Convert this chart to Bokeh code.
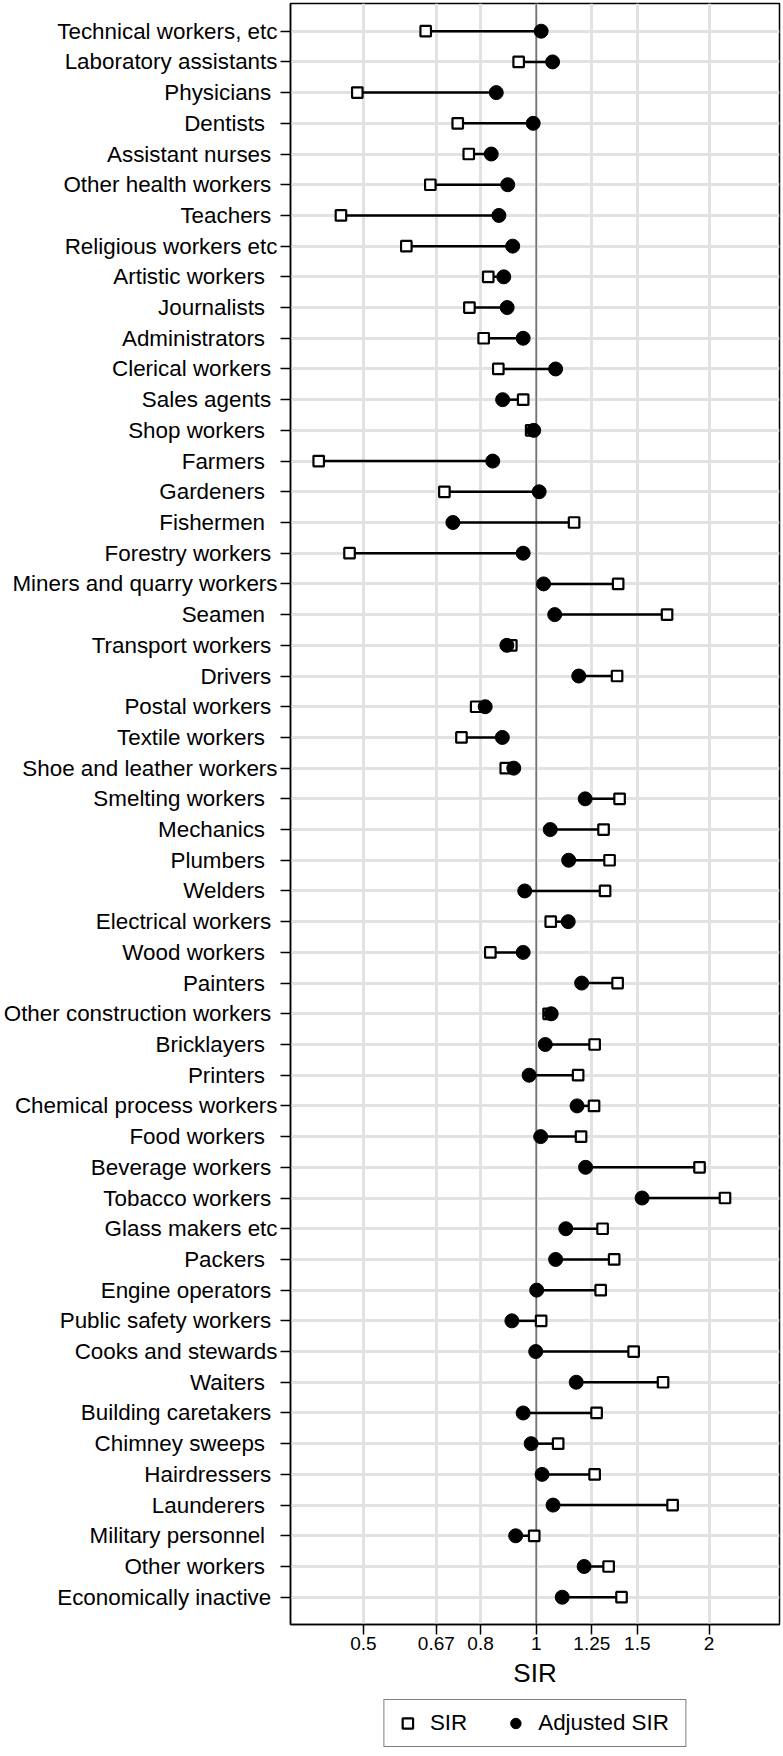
from bokeh.plotting import figure
from bokeh.layouts import column
from bokeh.models import Range1d, FixedTicker, Span, Legend, LegendItem, ColumnDataSource
from bokeh.embed import file_html
from bokeh.resources import INLINE

NB = "\u00a0"

categories = [
    "Technical workers, etc", "Laboratory assistants", "Physicians" + NB, "Dentists" + NB * 2,
    "Assistant nurses" + NB, "Other health workers" + NB, "Teachers" + NB, "Religious workers etc",
    "Artistic workers" + NB * 2, "Journalists" + NB * 2, "Administrators" + NB * 2,
    "Clerical workers" + NB, "Sales agents" + NB, "Shop workers" + NB * 2, "Farmers" + NB * 2,
    "Gardeners" + NB * 2, "Fishermen" + NB * 2, "Forestry workers" + NB, "Miners and quarry workers",
    "Seamen" + NB * 2, "Transport workers" + NB, "Drivers" + NB, "Postal workers" + NB,
    "Textile workers" + NB * 2, "Shoe and leather workers", "Smelting workers" + NB * 2,
    "Mechanics" + NB * 2, "Plumbers" + NB * 2, "Welders" + NB * 2, "Electrical workers" + NB,
    "Wood workers" + NB * 2, "Painters" + NB * 2, "Other construction workers" + NB,
    "Bricklayers" + NB * 2, "Printers" + NB * 2, "Chemical process workers", "Food workers" + NB * 2,
    "Beverage workers" + NB, "Tobacco workers" + NB, "Glass makers etc", "Packers" + NB * 2,
    "Engine operators" + NB, "Public safety workers" + NB, "Cooks and stewards",
    "Waiters" + NB * 2, "Building caretakers" + NB, "Chimney sweeps" + NB * 2,
    "Hairdressers" + NB, "Launderers" + NB * 2, "Military personnel" + NB * 2,
    "Other workers" + NB * 2, "Economically inactive" + NB,
]

sir = [
    0.642, 0.932, 0.488, 0.730, 0.763, 0.654, 0.457, 0.594, 0.825, 0.765,
    0.810, 0.859, 0.949, 0.980, 0.418, 0.692, 1.164, 0.473, 1.389, 1.690,
    0.905, 1.383, 0.786, 0.741, 0.885, 1.397, 1.310, 1.342, 1.318, 1.060,
    0.832, 1.386, 1.051, 1.264, 1.183, 1.261, 1.197, 1.925, 2.132, 1.305,
    1.367, 1.295, 1.020, 1.478, 1.663, 1.274, 1.092, 1.264, 1.728, 0.992,
    1.337, 1.408,
]

adjusted_sir = [
    1.020, 1.068, 0.852, 0.988, 0.835, 0.892, 0.861, 0.910, 0.878, 0.890,
    0.949, 1.081, 0.874, 0.990, 0.840, 1.012, 0.716, 0.949, 1.030, 1.077,
    0.889, 1.186, 0.815, 0.873, 0.914, 1.217, 1.058, 1.139, 0.955, 1.137,
    0.949, 1.200, 1.062, 1.037, 0.972, 1.178, 1.018, 1.219, 1.529, 1.126,
    1.081, 1.002, 0.907, 0.998, 1.174, 0.949, 0.980, 1.024, 1.070, 0.921,
    1.212, 1.110,
]

x_ticks = [0.5, 0.67, 0.8, 1, 1.25, 1.5, 2]
x_tick_labels = ["0.5", "0.67", "0.8", "1", "1.25", "1.5", "2"]

legend_labels = ["SIR", "Adjusted SIR" + NB]

FONT = "Liberation Sans"

rows = list(range(1, len(categories) + 1))
src = ColumnDataSource(dict(y=rows, sir=sir, adj=adjusted_sir))

SQ_STYLE = dict(marker="square", size=10.5, fill_color="white", line_color="black", line_width=2.2)
CI_STYLE = dict(marker="circle", size=14, fill_color="black", line_color="black", line_width=1)

p = figure(
    width=781, height=1698,
    x_axis_type="log",
    x_range=Range1d(0.3733, 2.653),
    y_range=Range1d(52.889, 0.098),
    output_backend="svg", toolbar_location=None,
    min_border_left=289, min_border_right=2, min_border_top=3, min_border_bottom=74,
)

p.outline_line_color = "black"
p.outline_line_width = 1.5

# grids
p.xgrid.ticker = FixedTicker(ticks=x_ticks)
p.ygrid.ticker = FixedTicker(ticks=rows)
for g in (p.xgrid, p.ygrid):
    g.grid_line_color = "#e2e2e2"
    g.grid_line_width = 3

ref = Span(location=1, dimension="height", line_color="#6e6e6e", line_width=1.5, level="underlay")
p.add_layout(ref)

# axes
p.yaxis.ticker = FixedTicker(ticks=rows)
p.yaxis.major_label_overrides = {r: c for r, c in zip(rows, categories)}
p.xaxis.ticker = FixedTicker(ticks=x_ticks)
p.xaxis.major_label_overrides = {t: l for t, l in zip(x_ticks, x_tick_labels)}
p.xaxis.axis_label = "SIR"

for ax in (p.xaxis, p.yaxis):
    ax.axis_line_color = "black"
    ax.axis_line_width = 1.5
    ax.major_tick_line_color = "black"
    ax.major_tick_line_width = 1.5
    ax.major_tick_out = 10
    ax.major_tick_in = 0
    ax.minor_tick_line_color = None
    ax.major_label_text_font = FONT
    ax.major_label_text_color = "black"
    ax.axis_label_text_font = FONT
    ax.axis_label_text_font_style = "normal"
    ax.axis_label_text_color = "black"

p.yaxis.major_label_text_font_size = "22.4px"
p.yaxis.major_label_standoff = 3
p.xaxis.major_label_text_font_size = "19px"
p.xaxis.major_label_standoff = 2
p.xaxis.axis_label_text_font_size = "26px"
p.xaxis.axis_label_standoff = 5

# marks
p.segment(x0="sir", x1="adj", y0="y", y1="y", source=src, line_color="black", line_width=2.5)
p.scatter(x="sir", y="y", source=src, **SQ_STYLE)
p.scatter(x="adj", y="y", source=src, **CI_STYLE)

# legend strip (its own small figure so the boxed legend sits below the axis title)
pl = figure(
    width=781, height=56,
    x_range=Range1d(0, 1), y_range=Range1d(-2, -1),
    output_backend="svg", toolbar_location=None,
    x_axis_location=None, y_axis_location=None,
    min_border_left=289, min_border_right=2, min_border_top=0, min_border_bottom=0,
)
pl.outline_line_color = None
pl.grid.visible = False
lsq = pl.scatter(x="sir", y="y", source=src, **SQ_STYLE)
lci = pl.scatter(x="adj", y="y", source=src, **CI_STYLE)

legend = Legend(
    items=[LegendItem(label=legend_labels[0], renderers=[lsq]),
           LegendItem(label=legend_labels[1], renderers=[lci])],
    orientation="horizontal", location="top_center",
    border_line_color="black", border_line_width=1.5,
    padding=10, spacing=35, label_standoff=10,
    glyph_width=26, glyph_height=26,
    label_text_font=FONT, label_text_font_size="22.4px", label_text_color="black",
    margin=1,
)
pl.add_layout(legend, "center")

layout = column(p, pl, spacing=0)
open("out.html", "w").write(file_html(layout, INLINE))
